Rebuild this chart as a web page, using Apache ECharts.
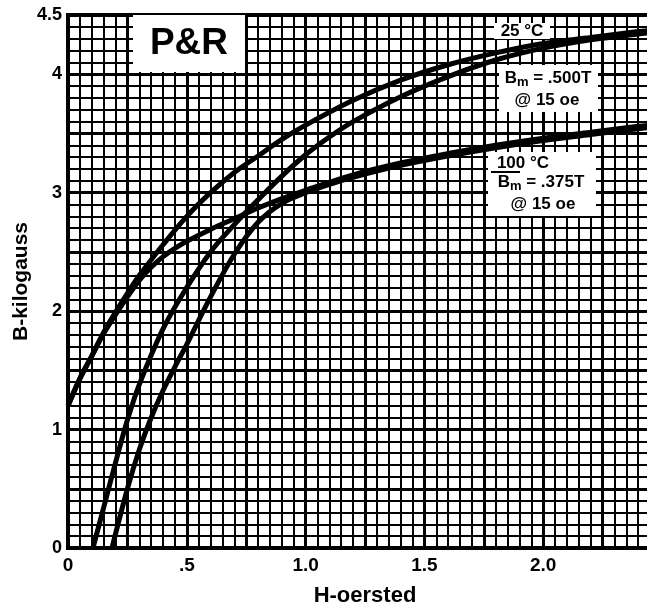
<!DOCTYPE html>
<html>
<head>
<meta charset="utf-8">
<script src="https://cdn.jsdelivr.net/npm/echarts@6/dist/echarts.min.js"></script>
<style>
html,body{margin:0;padding:0;background:#fff;}
#chart{width:647px;height:613px;}
</style>
</head>
<body>
<div id="chart"></div>
<script>
// Tick labels
var xTickValues = [0, 0.5, 1.0, 1.5, 2.0, 2.5];
var xTickLabels = ['0', '.5', '1.0', '1.5', '2.0', '2.5'];
var yTickValues = [0, 1, 2, 3, 4, 4.5];
var yTickLabels = ['0', '1', '2', '3', '4', '4.5'];

// 25 °C, upper branch (starts at H = 0)
var t25H = [0, 0.05, 0.1, 0.15, 0.2, 0.25, 0.3, 0.4, 0.5, 0.6, 0.7, 0.8, 0.9, 1.0, 1.2, 1.4, 1.6, 1.8, 2.0, 2.2, 2.4, 2.5];
var t25B = [1.2, 1.43, 1.62, 1.82, 1.99, 2.15, 2.3, 2.56, 2.8, 3.0, 3.17, 3.31, 3.45, 3.57, 3.78, 3.95, 4.08, 4.18, 4.26, 4.31, 4.36, 4.38];

// 25 °C, lower branch (starts on the H axis)
var l25H = [0.105, 0.15, 0.2, 0.25, 0.3, 0.4, 0.5, 0.6, 0.7, 0.8, 0.9, 1.0, 1.1, 1.2, 1.4, 1.6, 1.8, 2.0, 2.2, 2.4, 2.5];
var l25B = [0, 0.34, 0.72, 1.08, 1.38, 1.85, 2.2, 2.5, 2.73, 2.94, 3.14, 3.32, 3.47, 3.6, 3.81, 3.98, 4.12, 4.22, 4.29, 4.34, 4.36];

// 100 °C, upper branch (starts at H = 0)
var u100H = [0, 0.05, 0.1, 0.15, 0.2, 0.25, 0.3, 0.35, 0.4, 0.45, 0.5, 0.6, 0.7, 0.8, 0.9, 1.0, 1.2, 1.4, 1.6, 1.8, 2.0, 2.2, 2.4, 2.5];
var u100B = [1.2, 1.43, 1.62, 1.81, 1.97, 2.12, 2.26, 2.37, 2.46, 2.53, 2.59, 2.69, 2.78, 2.87, 2.95, 3.02, 3.15, 3.25, 3.33, 3.4, 3.46, 3.51, 3.56, 3.58];

// 100 °C, lower branch (starts on the H axis)
var r100H = [0.185, 0.25, 0.3, 0.35, 0.4, 0.45, 0.5, 0.6, 0.7, 0.8, 0.9, 1.0, 1.1, 1.2, 1.4, 1.6, 1.8, 2.0, 2.2, 2.4, 2.5];
var r100B = [0, 0.5, 0.83, 1.1, 1.33, 1.53, 1.72, 2.12, 2.48, 2.75, 2.91, 3.0, 3.07, 3.13, 3.23, 3.31, 3.38, 3.44, 3.49, 3.54, 3.56];

function pairs(h, b) { return h.map(function (v, i) { return [v, b[i]]; }); }
function lookup(vals, labels, v) {
  for (var i = 0; i < vals.length; i++) { if (Math.abs(vals[i] - v) < 1e-6) return labels[i]; }
  return '';
}

var FONT = '"Liberation Sans", Arial, Helvetica, sans-serif';
var chart = echarts.init(document.getElementById('chart'), null, { renderer: 'canvas' });

function curve(name, h, b) {
  return {
    name: name, type: 'line', data: pairs(h, b), smooth: 0.35, symbol: 'none',
    lineStyle: { color: '#000', width: 5 }, z: 5, animation: false
  };
}

var option = {
  backgroundColor: '#fff',
  animation: false,
  grid: { left: 68, top: 15, width: 594, height: 533, outerBoundsMode: 'none', containLabel: false,
    show: true, borderColor: '#000', borderWidth: 4, backgroundColor: '#fff' },
  xAxis: {
    type: 'value', min: 0, max: 2.5, interval: 0.25,
    axisLine: { show: false }, axisTick: { show: false },
    axisLabel: { margin: 8, color: '#000', fontFamily: FONT, fontWeight: 'bold', fontSize: 19,
      formatter: function (v) { return lookup(xTickValues, xTickLabels, v); } },
    splitLine: { show: true, lineStyle: { color: '#000', width: 3 } },
    minorTick: { show: false, splitNumber: 5 },
    minorSplitLine: { show: true, lineStyle: { color: '#000', width: 2 } },
    name: 'H-oersted', nameLocation: 'middle', nameGap: 37, nameMoveOverlap: false,
    nameTextStyle: { color: '#000', fontFamily: FONT, fontWeight: 'bold', fontSize: 22 }
  },
  yAxis: {
    type: 'value', min: 0, max: 4.5, interval: 0.5,
    axisLine: { show: false }, axisTick: { show: false },
    axisLabel: { margin: 6, color: '#000', fontFamily: FONT, fontWeight: 'bold', fontSize: 18,
      formatter: function (v) { return lookup(yTickValues, yTickLabels, v); } },
    splitLine: { show: true, lineStyle: { color: '#000', width: 3 } },
    minorTick: { show: false, splitNumber: 5 },
    minorSplitLine: { show: true, lineStyle: { color: '#000', width: 2 } },
    name: 'B-kilogauss', nameLocation: 'middle', nameGap: 36, nameMoveOverlap: false,
    nameTextStyle: { color: '#000', fontFamily: FONT, fontWeight: 'bold', fontSize: 21 }
  },
  series: [
    curve('25C upper', t25H, t25B),
    curve('25C lower', l25H, l25B),
    curve('100C upper', u100H, u100B),
    curve('100C lower', r100H, r100B)
  ],
  graphic: [
    { type: 'rect', shape: { x: 133, y: 15, width: 112, height: 57 }, style: { fill: '#fff' }, z: 10 },
    { type: 'text', x: 189, y: 44, z: 11, style: { text: 'P&R', fill: '#000', font: 'bold 37px ' + FONT, textAlign: 'center', textVerticalAlign: 'middle' } },

    { type: 'rect', shape: { x: 494, y: 23, width: 56, height: 16 }, style: { fill: '#fff' }, z: 10 },
    { type: 'text', x: 522, y: 31, z: 11, style: { text: '25 °C', fill: '#000', font: 'bold 17px ' + FONT, textAlign: 'center', textVerticalAlign: 'middle' } },

    { type: 'rect', shape: { x: 499, y: 65, width: 99, height: 47 }, style: { fill: '#fff' }, z: 10 },
    { type: 'text', x: 548, y: 78, z: 11, style: { text: '{b|B}{s|m}{b| = .500T}', textAlign: 'center', textVerticalAlign: 'middle',
      rich: { b: { fill: '#000', font: 'bold 17px ' + FONT }, s: { fill: '#000', font: 'bold 13px ' + FONT, padding: [8, 0, 0, 0] } } } },
    { type: 'text', x: 547, y: 100, z: 11, style: { text: '@ 15 oe', fill: '#000', font: 'bold 17px ' + FONT, textAlign: 'center', textVerticalAlign: 'middle' } },

    { type: 'rect', shape: { x: 488, y: 152, width: 108, height: 64 }, style: { fill: '#fff' }, z: 10 },
    { type: 'text', x: 523, y: 163, z: 11, style: { text: '100 °C', fill: '#000', font: 'bold 17px ' + FONT, textAlign: 'center', textVerticalAlign: 'middle' } },
    { type: 'line', shape: { x1: 491, y1: 172, x2: 520, y2: 172 }, style: { stroke: '#000', lineWidth: 2 }, z: 11 },
    { type: 'text', x: 541, y: 182, z: 11, style: { text: '{b|B}{s|m}{b| = .375T}', textAlign: 'center', textVerticalAlign: 'middle',
      rich: { b: { fill: '#000', font: 'bold 17px ' + FONT }, s: { fill: '#000', font: 'bold 13px ' + FONT, padding: [8, 0, 0, 0] } } } },
    { type: 'text', x: 543, y: 204, z: 11, style: { text: '@ 15 oe', fill: '#000', font: 'bold 17px ' + FONT, textAlign: 'center', textVerticalAlign: 'middle' } }
  ]
};
chart.setOption(option);
</script>
</body>
</html>
